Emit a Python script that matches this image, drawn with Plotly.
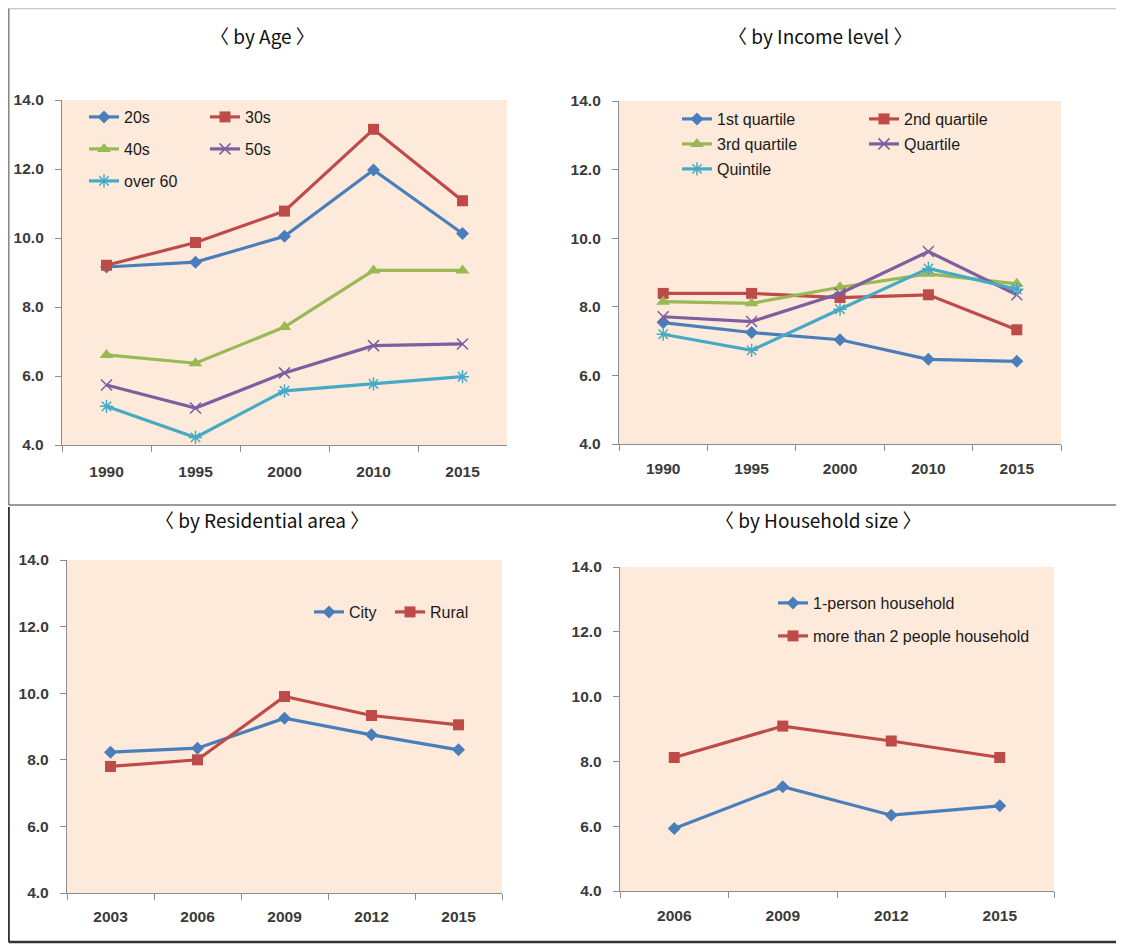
import plotly.graph_objects as go

# page is drawn with an 8px body margin, so the figure is sized to fit the window
OX, OY = 8, 8
W, H = 1124 - OX, 951 - OY

# ---------------- data ----------------
age_years = ["1990", "1995", "2000", "2010", "2015"]
age_20s = [9.16, 9.30, 10.05, 11.97, 10.13]
age_30s = [9.21, 9.87, 10.78, 13.15, 11.08]
age_40s = [6.61, 6.37, 7.42, 9.06, 9.06]
age_50s = [5.74, 5.07, 6.09, 6.88, 6.93]
age_over60 = [5.12, 4.22, 5.57, 5.77, 5.98]

inc_years = ["1990", "1995", "2000", "2010", "2015"]
inc_q1 = [7.54, 7.25, 7.04, 6.47, 6.41]
inc_q2 = [8.39, 8.39, 8.27, 8.35, 7.33]
inc_q3 = [8.15, 8.10, 8.57, 8.96, 8.67]
inc_quartile = [7.71, 7.57, 8.39, 9.61, 8.35]
inc_quintile = [7.20, 6.73, 7.93, 9.12, 8.51]

res_years = ["2003", "2006", "2009", "2012", "2015"]
res_city = [8.23, 8.35, 9.25, 8.75, 8.30]
res_rural = [7.80, 8.00, 9.90, 9.33, 9.05]

hh_years = ["2006", "2009", "2012", "2015"]
hh_one = [5.93, 7.22, 6.34, 6.63]
hh_multi = [8.12, 9.09, 8.63, 8.12]

titles = ["〈 by Age 〉", "〈 by Income level 〉", "〈 by Residential area 〉", "〈 by Household size 〉"]

# ---------------- styles ----------------
BLUE, RED, GREEN, PURPLE, CYAN = "#4A7EBB", "#BE4B48", "#98B954", "#7D5FA0", "#46AAC5"
STY = {
    "diamond": dict(color=BLUE, symbol="diamond", size=10),
    "square": dict(color=RED, symbol="square", size=11),
    "triangle": dict(color=GREEN, symbol="triangle-up", size=12),
    "x": dict(color=PURPLE, symbol="x-thin", size=11, line=dict(color=PURPLE, width=1.5)),
    "ast": dict(color=CYAN, symbol="asterisk", size=11, line=dict(color=CYAN, width=1.5)),
}
LCOL = {"diamond": BLUE, "square": RED, "triangle": GREEN, "x": PURPLE, "ast": CYAN}

fig = go.Figure()


def px_x(v):
    return (v - OX) / W


def px_y(v):
    return 1 - (v - OY) / H


def add(xcats, vals, name, kind, ax, legend):
    fig.add_trace(go.Scatter(
        x=xcats, y=vals, name=name, mode="lines+markers",
        line=dict(color=LCOL[kind], width=3.2),
        marker=STY[kind],
        xaxis="x" + ("" if ax == 1 else str(ax)),
        yaxis="y" + ("" if ax == 1 else str(ax)),
        legend=legend,
    ))


add(age_years, age_20s, "20s", "diamond", 1, "legend")
add(age_years, age_30s, "30s", "square", 1, "legend")
add(age_years, age_40s, "40s", "triangle", 1, "legend2")
add(age_years, age_50s, "50s", "x", 1, "legend2")
add(age_years, age_over60, "over 60", "ast", 1, "legend3")

add(inc_years, inc_q1, "1st quartile", "diamond", 2, "legend4")
add(inc_years, inc_q2, "2nd quartile", "square", 2, "legend4")
add(inc_years, inc_q3, "3rd quartile", "triangle", 2, "legend5")
add(inc_years, inc_quartile, "Quartile", "x", 2, "legend5")
add(inc_years, inc_quintile, "Quintile", "ast", 2, "legend6")

add(res_years, res_city, "City", "diamond", 3, "legend7")
add(res_years, res_rural, "Rural", "square", 3, "legend7")

add(hh_years, hh_one, "1-person household", "diamond", 4, "legend8")
add(hh_years, hh_multi, "more than 2 people household", "square", 4, "legend9")

# plot areas in window pixels: (x0, x1, ytop, ybottom)
areas = [(62, 507, 100, 445), (619, 1061, 101, 444), (67, 502, 560, 893), (620, 1054, 567, 891)]
ncat = [len(age_years), len(inc_years), len(res_years), len(hh_years)]
xstand = [12, 10, 9, 10]

AXC = "#8C8C8C"
TICKF = dict(family="Liberation Sans", size=15.5, color="#3A3A3A", weight="bold")
layout = dict(
    width=W, height=H, autosize=False,
    margin=dict(l=0, r=0, t=0, b=0, autoexpand=False),
    paper_bgcolor="white", plot_bgcolor="#FDEADA",
    showlegend=True,
    font=dict(family="Liberation Sans", size=15, color="#1a1a1a"),
)
for i, (x0, x1, yt, yb) in enumerate(areas):
    s = "" if i == 0 else str(i + 1)
    layout["xaxis" + s] = dict(
        domain=[px_x(x0), px_x(x1)], anchor="y" + s, type="category",
        range=[-0.5, ncat[i] - 0.5], tickson="boundaries", ticks="outside",
        ticklen=6, tickcolor=AXC, showline=True, linecolor=AXC, linewidth=1.3,
        showgrid=False, zeroline=False, tickfont=TICKF, automargin=False,
        ticklabelstandoff=xstand[i],
    )
    layout["yaxis" + s] = dict(
        domain=[px_y(yb), px_y(yt)], anchor="x" + s, range=[4, 14], dtick=2,
        tick0=4, tickformat=".1f", ticks="outside", ticklen=6, tickcolor=AXC,
        showline=True, linecolor=AXC, linewidth=1.3, showgrid=False,
        zeroline=False, tickfont=TICKF, automargin=False, ticklabelstandoff=8,
    )

LEGF = dict(family="Liberation Sans", size=16, color="#1a1a1a")


def leg(xpx, ypx, ew):
    return dict(
        x=px_x(xpx), y=px_y(ypx), xanchor="left", yanchor="middle",
        orientation="h", entrywidth=ew, entrywidthmode="pixels",
        bgcolor="rgba(0,0,0,0)", font=LEGF, itemwidth=30,
        tracegroupgap=0,
    )


layout["legend"] = leg(84, 117, 76)
layout["legend2"] = leg(84, 149, 76)
layout["legend3"] = leg(84, 181, 76)
layout["legend4"] = leg(677, 119, 142)
layout["legend5"] = leg(677, 144, 142)
layout["legend6"] = leg(677, 169, 142)
layout["legend7"] = leg(309, 612, 36)
layout["legend8"] = leg(773, 603, 250)
layout["legend9"] = leg(773, 636, 250)

title_pos = [(262, 35), (820, 35), (262, 519), (818, 519)]
annotations = []
for t, (cx, cy) in zip(titles, title_pos):
    annotations.append(dict(
        text=t, x=px_x(cx), y=px_y(cy), xref="paper", yref="paper",
        xanchor="center", yanchor="middle", showarrow=False,
        font=dict(family="Noto Sans CJK KR", size=19, color="#111111"),
    ))
layout["annotations"] = annotations


def fx(v):
    return max(px_x(v), 0.6 / W)


def fy(v):
    return min(px_y(v), 1 - 0.6 / H)


def line(x0, y0, x1, y1, color, w):
    return dict(type="line", xref="paper", yref="paper",
                x0=fx(x0), y0=fy(y0), x1=fx(x1), y1=fy(y1),
                line=dict(color=color, width=w))


layout["shapes"] = [
    line(3, 0.5, 1121, 0.5, "#C8C8C8", 1.5),
    line(3, 0, 3, 505, "#8A8A8A", 2),
    line(1121, 0, 1121, 505, "#8A8A8A", 2),
    line(3, 505, 1121, 505, "#7A7A7A", 1.5),
    line(2, 507, 2, 942, "#333333", 2.5),
    line(1119, 507, 1119, 942, "#333333", 2.5),
    line(1, 942, 1120, 942, "#333333", 2.5),
]

fig.update_layout(**layout)
fig.write_html("out.html")
